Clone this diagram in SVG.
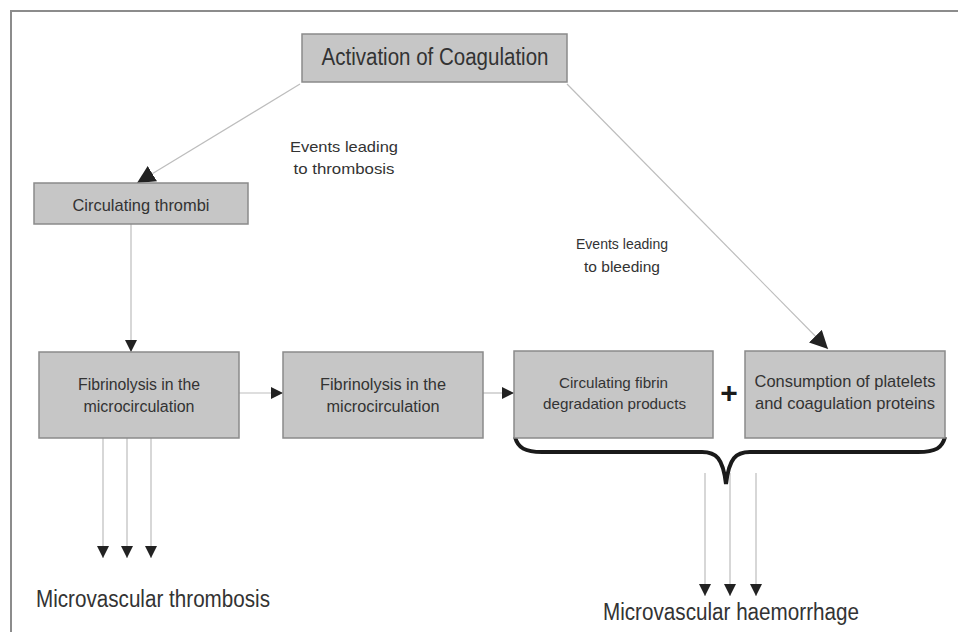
<svg xmlns="http://www.w3.org/2000/svg" width="958" height="632" viewBox="0 0 958 632">
<style>
.box{fill:#c6c6c6;stroke:#8a8a8a;stroke-width:1.5}
.t{font-family:"Liberation Sans",Arial,sans-serif;fill:#333;text-anchor:middle}
.c{stroke:#bdbdbd;stroke-width:1.2;fill:none}
</style>
<defs>
<marker id="ah" markerUnits="userSpaceOnUse" markerWidth="12" markerHeight="12" refX="10" refY="5" orient="auto" viewBox="0 0 10 10"><path d="M0,0 L10,5 L0,10 Z" fill="#222"/></marker>
<marker id="big" markerUnits="userSpaceOnUse" markerWidth="18" markerHeight="18" refX="10" refY="5" orient="auto" viewBox="0 0 10 10"><path d="M0,0 L10,5 L0,10 Z" fill="#222"/></marker>
</defs>
<rect width="958" height="632" fill="#fff"/>
<path d="M11,632 L11,11 L958,11" fill="none" stroke="#8c8c8c" stroke-width="2"/>

<g id="connectors">
<line class="c" x1="300" y1="84" x2="137" y2="183" marker-end="url(#big)"/>
<line class="c" x1="567" y1="84" x2="828" y2="349" marker-end="url(#big)"/>
<line class="c" x1="131" y1="224" x2="131" y2="352" marker-end="url(#ah)"/>
<line class="c" x1="239" y1="393" x2="283" y2="393" marker-end="url(#ah)"/>
<line class="c" x1="483" y1="393" x2="514" y2="393" marker-end="url(#ah)"/>
<line class="c" x1="103" y1="438" x2="103" y2="558" marker-end="url(#ah)"/>
<line class="c" x1="127" y1="438" x2="127" y2="558" marker-end="url(#ah)"/>
<line class="c" x1="151" y1="438" x2="151" y2="558" marker-end="url(#ah)"/>
<line class="c" x1="705" y1="473" x2="705" y2="596" marker-end="url(#ah)"/>
<line class="c" x1="730" y1="473" x2="730" y2="596" marker-end="url(#ah)"/>
<line class="c" x1="756" y1="473" x2="756" y2="596" marker-end="url(#ah)"/>
<path d="M515,437 C518,448 525,452 542,452 L702,452 C716,452 723,458 726,484 C729,458 736,452 750,452 L918,452 C936,452 942,448 945,437" fill="none" stroke="#1a1a1a" stroke-width="4"/>
</g>

<g id="activation">
<rect class="box" x="302" y="34" width="265" height="48"/>
<text class="t" x="435" y="65" font-size="23" textLength="227" lengthAdjust="spacingAndGlyphs">Activation of Coagulation</text>
</g>
<g id="circulating-thrombi">
<rect class="box" x="34" y="183" width="214" height="41"/>
<text class="t" x="141" y="211" font-size="17" textLength="137" lengthAdjust="spacingAndGlyphs">Circulating thrombi</text>
</g>
<g id="fibrinolysis-1">
<rect class="box" x="39" y="352" width="200" height="86"/>
<text class="t" x="139" y="390" font-size="16" textLength="122" lengthAdjust="spacingAndGlyphs">Fibrinolysis in the</text>
<text class="t" x="139" y="412" font-size="16" textLength="111" lengthAdjust="spacingAndGlyphs">microcirculation</text>
</g>
<g id="fibrinolysis-2">
<rect class="box" x="283" y="352" width="200" height="86"/>
<text class="t" x="383" y="390" font-size="16" textLength="126" lengthAdjust="spacingAndGlyphs">Fibrinolysis in the</text>
<text class="t" x="383" y="412" font-size="16" textLength="113" lengthAdjust="spacingAndGlyphs">microcirculation</text>
</g>
<g id="fibrin-degradation">
<rect class="box" x="514" y="351" width="199" height="87"/>
<text class="t" x="613.5" y="388" font-size="15" textLength="109" lengthAdjust="spacingAndGlyphs">Circulating fibrin</text>
<text class="t" x="614.5" y="409" font-size="15" textLength="143" lengthAdjust="spacingAndGlyphs">degradation products</text>
</g>
<g id="plus">
<text class="t" x="729" y="403" font-size="30" font-weight="bold" style="fill:#1a1a1a">+</text>
</g>
<g id="consumption">
<rect class="box" x="745" y="351" width="200" height="87"/>
<text class="t" x="845" y="387" font-size="17" textLength="181" lengthAdjust="spacingAndGlyphs">Consumption of platelets</text>
<text class="t" x="845" y="409" font-size="17" textLength="180" lengthAdjust="spacingAndGlyphs">and coagulation proteins</text>
</g>
<g id="label-thrombosis">
<text class="t" x="344" y="152" font-size="15" textLength="108" lengthAdjust="spacingAndGlyphs">Events leading</text>
<text class="t" x="344" y="174" font-size="15" textLength="101" lengthAdjust="spacingAndGlyphs">to thrombosis</text>
</g>
<g id="label-bleeding">
<text class="t" x="622" y="249" font-size="15" textLength="92" lengthAdjust="spacingAndGlyphs">Events leading</text>
<text class="t" x="622" y="272" font-size="15" textLength="76" lengthAdjust="spacingAndGlyphs">to bleeding</text>
</g>
<g id="microvascular-thrombosis">
<text class="t" x="153" y="607" font-size="23" textLength="234" lengthAdjust="spacingAndGlyphs">Microvascular thrombosis</text>
</g>
<g id="microvascular-haemorrhage">
<text class="t" x="731" y="620" font-size="23" textLength="256" lengthAdjust="spacingAndGlyphs">Microvascular haemorrhage</text>
</g>
</svg>
